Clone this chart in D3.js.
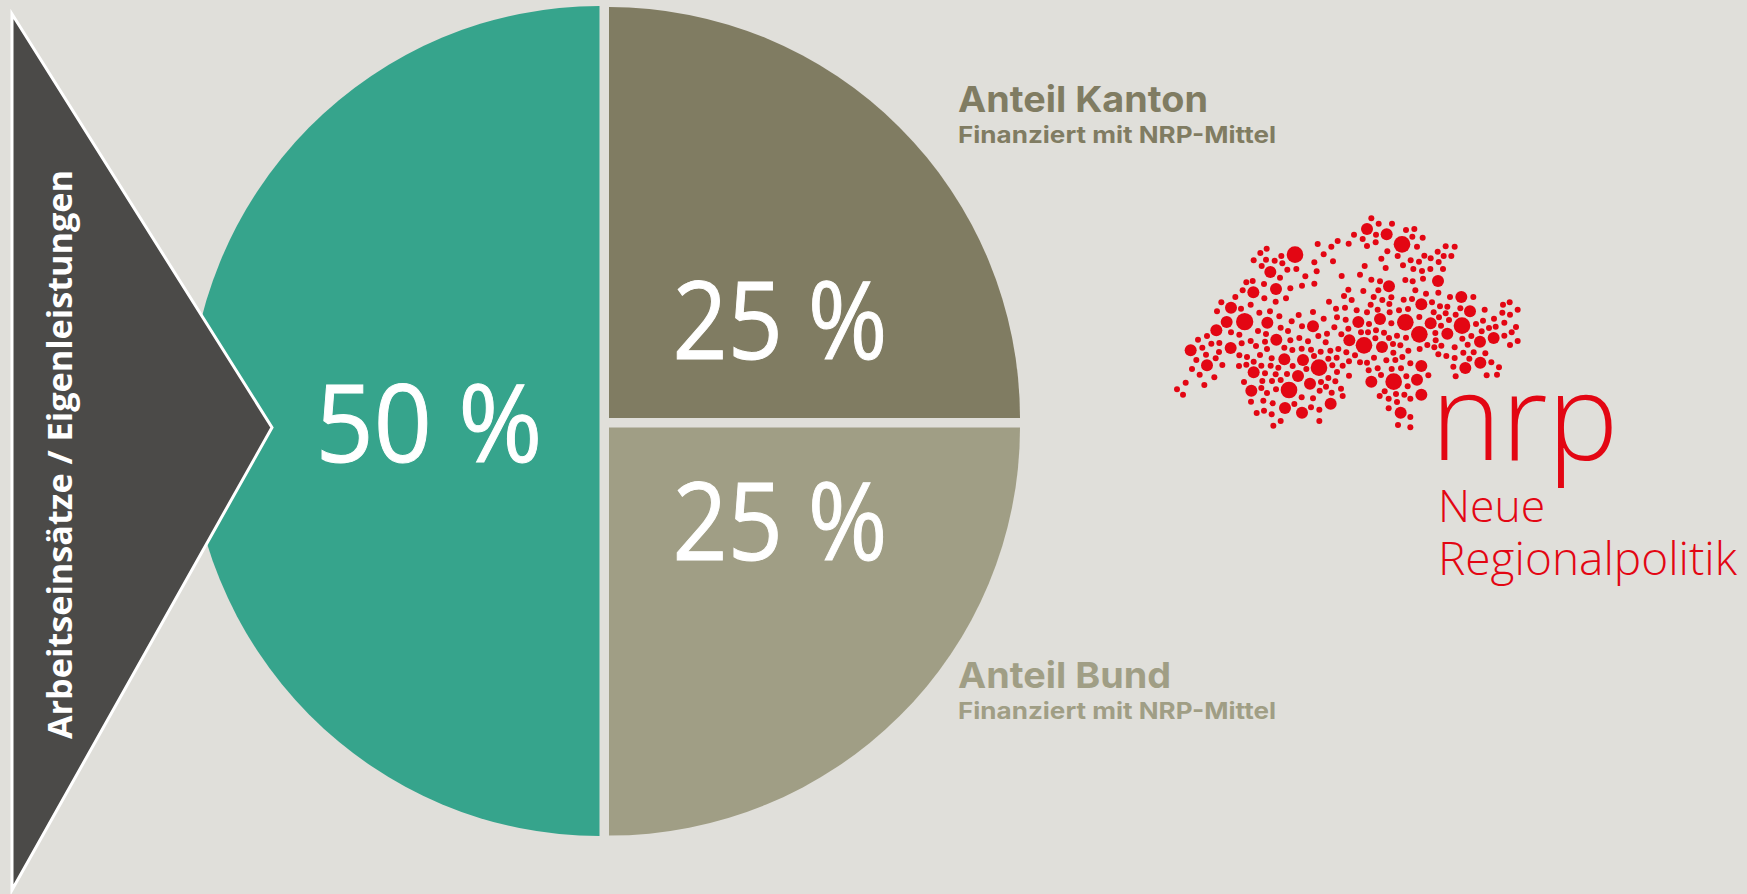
<!DOCTYPE html>
<html><head><meta charset="utf-8">
<script src="https://cdn.jsdelivr.net/npm/d3@7"></script>
<style>html,body{margin:0;padding:0;background:#e0dfda;overflow:hidden}svg{display:block}text{font-family:"Open Sans",sans-serif}</style>
</head><body><svg id="c" width="1747" height="894"></svg>
<script>
const sliceNames = ["Anteil Kanton","Anteil Bund","Arbeitseinsätze / Eigenleistungen"];
const sliceValues = [25,25,50];
const sliceColors = ["#807c62","#a09e85","#36a48c"];
const subLabel = "Finanziert mit NRP-Mittel";
const logoTitle = "nrp";
const logoLines = ["Neue","Regionalpolitik"];
const logoBig = [[435,164,25],[756,133,25],[284,365,26],[507,503,25],[417,570,25],[936,377,25],[808,403,25],[766,367,25],[642,436,25],[731,545,25]];
const logoMid = [[361,216],[378,267],[310,277],[243,323],[230,366],[199,391],[122,451],[242,444],[171,496],[352,368],[379,419],[489,379],[403,478],[459,480],[444,528],[480,551],[311,517],[304,572],[405,624],[456,638],[542,611],[651,87],[710,103],[864,243],[717,259],[814,313],[934,291],[960,334],[892,401],[842,370],[690,357],[625,366],[598,421],[696,441],[990,425],[1031,414],[991,488],[946,504],[814,498],[801,539],[664,545],[814,584],[752,638]];
const logoSmall = [[664,55],[686,71],[726,71],[768,90],[793,87],[787,110],[818,113],[678,104],[638,117],[612,104],[677,127],[651,138],[596,131],[563,123],[544,140],[503,132],[521,163],[493,187],[549,184],[500,214],[466,229],[456,257],[493,251],[801,140],[712,154],[743,168],[694,176],[707,204],[644,198],[630,224],[575,228],[664,239],[690,244],[759,196],[782,181],[807,185],[823,167],[842,175],[863,155],[887,139],[914,140],[881,168],[904,168],[866,186],[879,207],[841,207],[816,213],[790,207],[819,236],[766,240],[788,244],[796,271],[828,281],[865,278],[331,159],[350,146],[394,168],[311,181],[348,179],[374,182],[397,190],[335,198],[412,209],[439,207],[390,233],[289,247],[308,243],[342,252],[278,271],[256,291],[421,265],[343,295],[377,305],[408,295],[214,307],[302,314],[273,326],[201,334],[328,338],[360,334],[388,349],[446,345],[489,336],[521,356],[425,364],[456,379],[392,383],[414,393],[324,393],[348,402],[243,397],[268,404],[144,419],[171,408],[184,431],[208,429],[157,443],[275,430],[302,423],[318,438],[345,425],[351,447],[403,443],[421,421],[448,414],[474,424],[505,408],[531,401],[527,427],[553,382],[574,403],[595,386],[587,359],[561,352],[558,326],[585,323],[537,305],[595,269],[582,288],[605,300],[640,273],[685,271],[671,291],[697,300],[724,292],[718,312],[662,314],[620,331],[651,337],[683,329],[719,337],[747,331],[774,327],[761,299],[786,297],[846,307],[870,319],[892,320],[900,291],[970,291],[851,337],[887,340],[917,344],[931,325],[867,352],[897,360],[873,377],[856,399],[808,351],[724,370],[657,372],[633,397],[654,397],[678,391],[702,398],[717,414],[741,407],[768,413],[676,415],[729,432],[751,436],[775,452],[809,447],[832,435],[853,442],[874,437],[857,421],[865,463],[889,468],[914,442],[953,434],[937,416],[964,408],[978,372],[999,362],[995,394],[1017,384],[1037,380],[1004,329],[1032,356],[1057,338],[1059,314],[1079,307],[1103,329],[1080,344],[1063,368],[1098,381],[1085,397],[1063,407],[1080,435],[1103,423],[940,458],[971,457],[1006,460],[958,476],[914,474],[910,500],[917,529],[1024,487],[1047,502],[1010,526],[1041,524],[139,480],[168,464],[207,456],[197,475],[217,495],[126,507],[149,524],[193,532],[107,548],[81,568],[99,584],[163,555],[268,466],[291,471],[311,485],[267,498],[289,494],[330,465],[334,497],[365,475],[362,497],[385,503],[428,498],[427,450],[455,446],[483,449],[512,455],[492,468],[541,452],[565,447],[589,457],[560,473],[535,476],[547,496],[578,497],[597,484],[615,466],[630,487],[651,488],[672,473],[709,481],[736,480],[757,471],[730,458],[781,490],[656,511],[683,505],[725,507],[753,505],[693,525],[769,529],[835,526],[773,559],[704,574],[738,582],[763,584],[689,588],[716,596],[781,596],[741,606],[716,625],[781,651],[744,675],[781,682],[345,520],[377,523],[411,522],[469,507],[561,516],[597,527],[535,534],[556,544],[513,546],[528,560],[509,572],[545,578],[573,566],[578,588],[489,595],[455,592],[433,612],[483,622],[508,629],[508,663],[392,663],[370,677],[365,643],[342,632],[320,639],[368,610],[340,602],[303,605],[351,579],[378,568],[334,564],[282,546],[337,543],[366,543],[392,540]];

const svg = d3.select("#c");
const pie = d3.pie().sort(null).value(d=>d)(sliceValues);
const arc = d3.arc().innerRadius(0);
const layout = [
 {cx:609,cy:418,r:411,sx:1,sy:1,lx:780,ly:359,tl:215},
 {cx:609,cy:427.5,r:411,sx:1,sy:.993,lx:780,ly:560,tl:215},
 {cx:599.5,cy:421,r:415,sx:.99,sy:1,lx:429,ly:462,tl:227}
];
const g = svg.append("g");
g.selectAll("path").data(pie).join("path")
 .attr("transform",(d,i)=>`translate(${layout[i].cx},${layout[i].cy}) scale(${layout[i].sx},${layout[i].sy})`)
 .attr("fill",(d,i)=>sliceColors[i])
 .attr("d",(d,i)=>arc.outerRadius(layout[i].r)(d));
g.selectAll("text").data(pie).join("text")
 .attr("x",(d,i)=>layout[i].lx).attr("y",(d,i)=>layout[i].ly)
 .attr("text-anchor","middle").attr("fill","#fff").attr("font-size",108)
 .attr("stroke","#fff").attr("stroke-width",1)
 .attr("textLength",(d,i)=>layout[i].tl).attr("lengthAdjust","spacingAndGlyphs")
 .text(d=>d.value+" %");
svg.append("path").attr("d",d3.line()([[12,14],[272,427.5],[12,890]])+"Z")
 .attr("fill","#4b4a48").attr("stroke","#fff").attr("stroke-width",3);
svg.append("text").attr("transform","translate(72,454.5) rotate(-90)")
 .attr("text-anchor","middle").attr("font-size",34).attr("font-weight",700).attr("fill","#fff")
 .attr("textLength",569).attr("lengthAdjust","spacingAndGlyphs")
 .text(sliceNames[2]);
const labels=[{t:sliceNames[0],y:112,y2:143,c:sliceColors[0],w:250},{t:sliceNames[1],y:688,y2:719,c:sliceColors[1],w:213}];
labels.forEach(l=>{
 svg.append("text").attr("x",958).attr("y",l.y).style("font-family","Inter").attr("font-size",36).attr("font-weight",700).attr("fill",l.c)
  .attr("textLength",l.w).attr("lengthAdjust","spacingAndGlyphs").text(l.t);
 svg.append("text").attr("x",958).attr("y",l.y2).style("font-family","Inter").attr("font-size",23).attr("font-weight",700).attr("fill",l.c)
  .attr("textLength",318).attr("lengthAdjust","spacingAndGlyphs").text(subLabel);
});
const red="#e30613";
const lx=d3.scaleLinear().domain([0,1200]).range([1150,1550]);
const ly=d3.scaleLinear().domain([0,720]).range([200,440]);
const dots=[...logoBig,...logoMid.map(d=>[d[0],d[1],18]),...logoSmall.map(d=>[d[0],d[1],9])];
svg.append("g").selectAll("circle").data(dots).join("circle")
 .attr("cx",d=>lx(d[0])).attr("cy",d=>ly(d[1])).attr("r",d=>d[2]/3).attr("fill",red);
svg.append("text").attr("x",1431).attr("y",460).attr("font-size",119).attr("font-weight",300).attr("fill",red).text(logoTitle);
svg.append("text").attr("x",1438).attr("y",522).attr("font-size",44.5).attr("font-weight",300).attr("fill",red).text(logoLines[0]);
svg.append("text").attr("x",1438).attr("y",575).attr("font-size",46).attr("font-weight",300).attr("fill",red).text(logoLines[1]);
</script></body></html>
